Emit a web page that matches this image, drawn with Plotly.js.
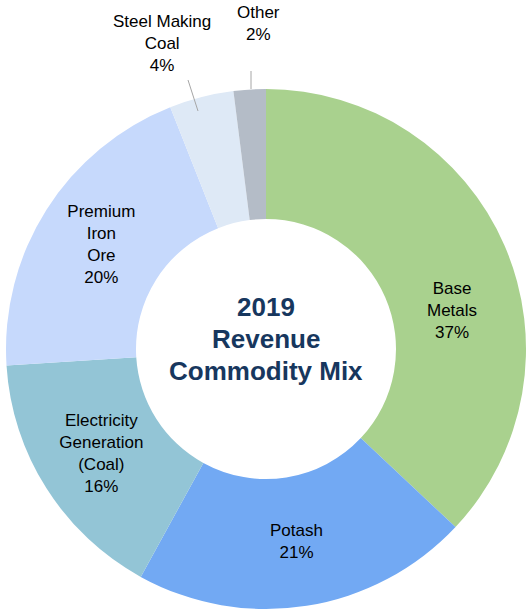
<!DOCTYPE html>
<html>
<head>
<meta charset="utf-8">
<script src="https://cdn.plot.ly/plotly-3.0.1.min.js"></script>
<style>html,body{margin:0;padding:0;background:#fff;}#chart{width:526px;height:612px;}</style>
</head>
<body>
<div id="chart"></div>
<script>
var categories = ['Base Metals', 'Potash', 'Electricity Generation (Coal)', 'Premium Iron Ore', 'Steel Making Coal', 'Other'];
var sliceText = ['Base<br>Metals', 'Potash', 'Electricity<br>Generation<br>(Coal)', 'Premium<br>Iron<br>Ore', 'Steel Making<br>Coal', 'Other'];
var shares = [37, 21, 16, 20, 4, 2];
var colors = ['#a9d18e', '#72a9f3', '#93c5d6', '#c6d9fc', '#dee9f6', '#b4bcc7'];
var labelledByAnnotation = [true, false, false, false, true, true];
var centerTitleLines = ['2019', 'Revenue', 'Commodity Mix'];

var FONT = 'Liberation Sans, Arial, Helvetica, sans-serif';

var templates = shares.map(function (v, i) {
  return labelledByAnnotation[i] ? '' : '%{customdata}<br>%{value}%';
});

var trace = {
  type: 'pie',
  labels: categories,
  values: shares,
  customdata: sliceText,
  texttemplate: templates,
  textposition: 'inside',
  insidetextorientation: 'horizontal',
  insidetextfont: {family: FONT, size: 17, color: '#000000'},
  hole: 0.5,
  sort: false,
  direction: 'clockwise',
  rotation: 0,
  marker: {colors: colors, line: {width: 0}},
  hoverinfo: 'none',
  showlegend: false,
  domain: {x: [0.0114, 1], y: [0.0033, 0.856]}
};

var annotations = [];
var titleY = [307, 339, 371];
centerTitleLines.forEach(function (t, j) {
  annotations.push({
    text: '<b>' + t + '</b>',
    x: 266 / 526, y: 1 - titleY[j] / 612, xref: 'paper', yref: 'paper',
    showarrow: false, xanchor: 'center', yanchor: 'middle',
    font: {family: FONT, size: 26, color: '#17375e'}
  });
});

// label placements for slices labelled with annotations (pixel positions of label centres)
var labelPos = {0: {x: 452, y: 310}, 4: {x: 162, y: 44}, 5: {x: 258, y: 24}};
Object.keys(labelPos).forEach(function (k) {
  var i = +k;
  annotations.push({
    text: sliceText[i] + '<br>' + shares[i] + '%',
    x: labelPos[k].x / 526, y: 1 - labelPos[k].y / 612,
    xref: 'paper', yref: 'paper', showarrow: false,
    xanchor: 'center', yanchor: 'middle',
    font: {family: FONT, size: 17, color: '#000000'}
  });
});

var shapes = [
  {type: 'line', xref: 'paper', yref: 'paper', x0: 188 / 526, y0: 1 - 80 / 612, x1: 198 / 526, y1: 1 - 111 / 612, line: {color: '#a6a6a6', width: 1}},
  {type: 'line', xref: 'paper', yref: 'paper', x0: 251 / 526, y0: 1 - 71 / 612, x1: 251 / 526, y1: 1 - 89 / 612, line: {color: '#a6a6a6', width: 1}}
];

var layout = {
  width: 526, height: 612,
  margin: {l: 0, r: 0, t: 0, b: 0},
  paper_bgcolor: '#ffffff',
  annotations: annotations,
  shapes: shapes
};

Plotly.newPlot('chart', [trace], layout, {displayModeBar: false, staticPlot: true});
</script>
</body>
</html>
